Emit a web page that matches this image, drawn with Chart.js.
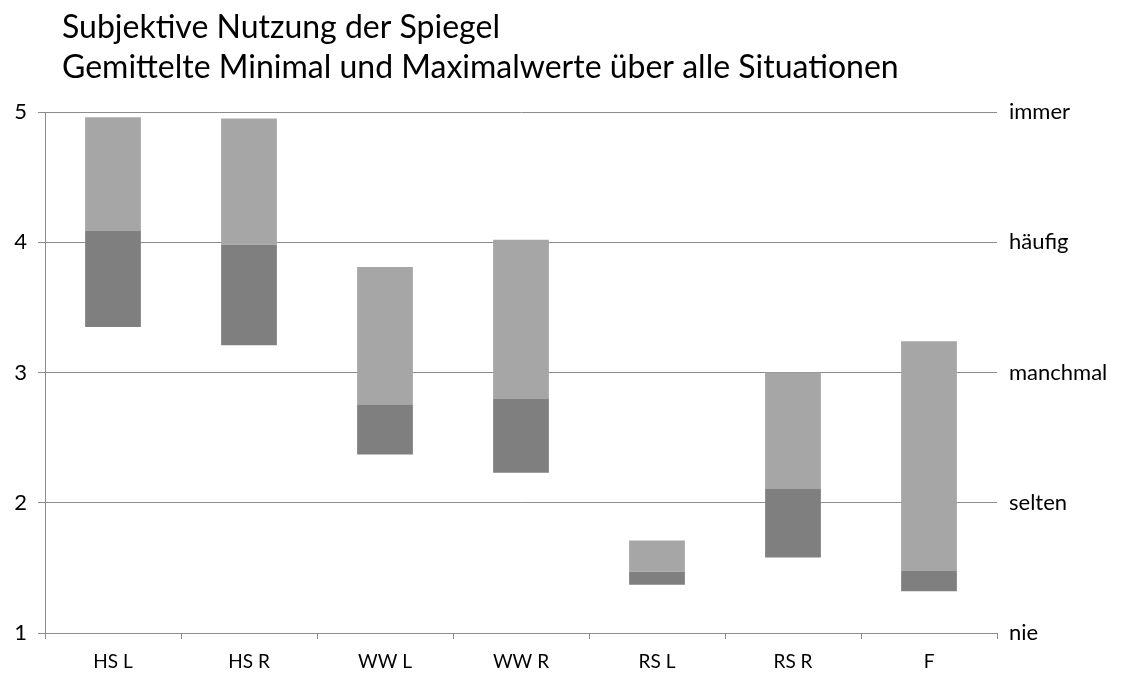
<!DOCTYPE html>
<html>
<head>
<meta charset="utf-8">
<script src="https://cdn.jsdelivr.net/npm/chart.js@4"></script>
<style>
  html, body { margin: 0; padding: 0; background: #fff; }
  #wrap { width: 1130px; height: 675px; }
</style>
</head>
<body>
<div id="wrap"><canvas id="chart"></canvas></div>
<script>
const categories = ['HS L', 'HS R', 'WW L', 'WW R', 'RS L', 'RS R', 'F'];
const minValues = [3.35, 3.21, 2.37, 2.23, 1.37, 1.58, 1.32];
const midValues = [4.09, 3.98, 2.75, 2.80, 1.47, 2.11, 1.48];
const maxValues = [4.96, 4.95, 3.81, 4.02, 1.71, 3.00, 3.24];
const rightLabels = { 1: 'nie', 2: 'selten', 3: 'manchmal', 4: 'häufig', 5: 'immer' };
const titleLines = ['Subjektive Nutzung der Spiegel', 'Gemittelte Minimal und Maximalwerte über alle Situationen'];

const font = 'Lato, "Open Sans", sans-serif';

const ctx = document.getElementById('chart');

// title drawn by hand so it can sit indented from the canvas edge
const titlePlugin = {
  id: 'indentTitle',
  afterDraw(chart) {
    const c = chart.ctx;
    c.save();
    c.fillStyle = '#000';
    c.font = '32px ' + font;
    c.textBaseline = 'alphabetic';
    c.textAlign = 'left';
    c.fillText(titleLines[0], 62, 38);
    c.fillText(titleLines[1], 62, 78);
    c.restore();
  }
};

new Chart(ctx, {
  type: 'bar',
  data: {
    labels: categories,
    datasets: [
      {
        label: 'Minimal',
        data: minValues.map((v, i) => [v, midValues[i]]),
        backgroundColor: '#7f7f7f',
        borderSkipped: false,
        barPercentage: 0.41,
        categoryPercentage: 1
      },
      {
        label: 'Maximal',
        data: midValues.map((v, i) => [v, maxValues[i]]),
        backgroundColor: '#a6a6a6',
        borderSkipped: false,
        barPercentage: 0.41,
        categoryPercentage: 1
      }
    ]
  },
  options: {
    responsive: true,
    maintainAspectRatio: false,
    animation: false,
    layout: { padding: { left: 0, right: 0, top: 112, bottom: 0 } },
    plugins: {
      legend: { display: false },
      tooltip: { enabled: false },
      title: { display: false }
    },
    scales: {
      x: {
        stacked: true,
        afterFit: (s) => { s.height = 42; },
        grid: { display: true, drawOnChartArea: false, offset: true, color: '#8c8c8c', tickLength: 6 },
        border: { color: '#8c8c8c' },
        ticks: { color: '#000', font: { family: font, size: 19 }, padding: 11 }
      },
      y: {
        min: 1,
        max: 5,
        position: 'left',
        afterFit: (s) => { s.width = 45; },
        grid: { color: '#8c8c8c', tickLength: 7 },
        border: { color: '#8c8c8c' },
        ticks: { stepSize: 1, color: '#000', font: { family: font, size: 22 }, padding: 11 }
      },
      y2: {
        min: 1,
        max: 5,
        position: 'right',
        afterFit: (s) => { s.width = 133; },
        grid: { display: false },
        border: { display: false },
        ticks: {
          stepSize: 1,
          color: '#000',
          font: { family: font, size: 22 },
          padding: 4,
          callback: (v) => rightLabels[v]
        }
      }
    }
  },
  plugins: [titlePlugin]
});
</script>
</body>
</html>
